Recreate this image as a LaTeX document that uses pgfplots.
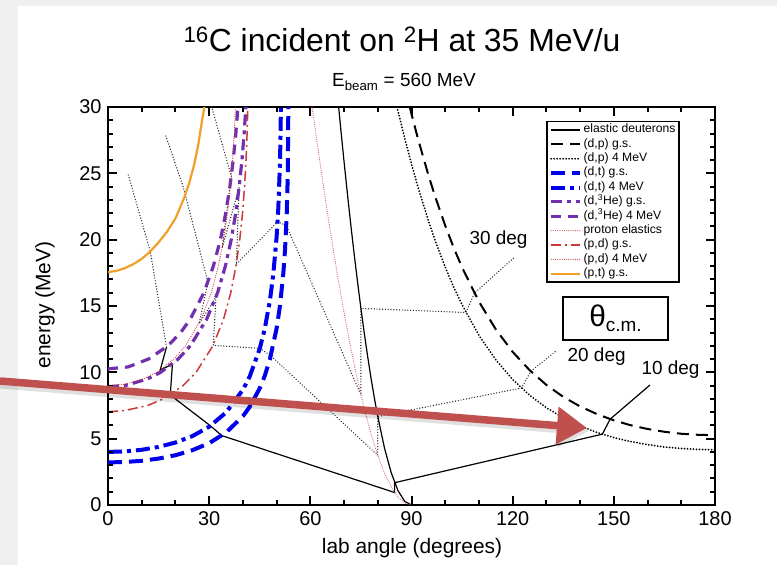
\documentclass[border=0pt]{standalone}
\usepackage{fontspec}
\setmainfont{Liberation Sans}
\usepackage{pgfplots}
\pgfplotsset{compat=1.18}
\usetikzlibrary{arrows.meta}
\definecolor{myblue}{RGB}{0,0,235}
\definecolor{mypurple}{RGB}{112,48,175}
\definecolor{myred}{RGB}{205,55,55}
\definecolor{mypink}{RGB}{215,95,95}
\definecolor{myorange}{RGB}{240,160,40}
\definecolor{arrowred}{RGB}{192,80,77}
\begin{document}
\begin{tikzpicture}
\path[use as bounding box] (-108bp,-60bp) rectangle (669bp,505bp);
\fill[gray!12] (-108bp,-60bp) rectangle (-90bp,505bp);
\fill[gray!12] (-108bp,499bp) rectangle (669bp,505bp);
\begin{axis}[
  at={(0bp,0bp)}, anchor=south west,
  scale only axis, width=607bp, height=398bp,
  xmin=0, xmax=180, ymin=0, ymax=30,
  xtick={0,30,60,90,120,150,180},
  ytick={0,5,10,15,20,25,30},
  xticklabel pos=lower, yticklabel pos=left,
  tick align=inside, major tick length=9bp, minor tick length=5bp,
  tick style={draw=black, solid, line width=2bp},
  axis line style={black, line width=1.8bp},
  /pgf/number format/assume math mode=true,
  ticklabel style={font=\fontsize{20}{24}\selectfont},
  xticklabel style={yshift=-3bp},
  yticklabel style={xshift=-3bp},
  legend style={at={(axis cs:130,28.96)}, anchor=north west, draw=black, line width=1.6bp, fill=white,
    font=\fontsize{12.2}{14}\selectfont, inner sep=2bp, row sep=1.4bp,
    nodes={inner sep=1.5bp, text height=0.78em, text depth=0.22em}, cells={anchor=west}},
  legend image code/.code={\draw[#1] (0bp,0bp) -- (29bp,0bp);},
]
% theta_cm lines
\addplot[forget plot, black!85, line width=1.4bp, line cap=round, dash pattern=on 0bp off 2.8bp] coordinates {
(120.2,18.6) (108.67,15.97) (106.15,14.51) (75,14.82) (75,8.31) (52.87,21.07) (50.3,21.35) (38.04,18.14) (38.89,23.95) (33.84,19.37) (36.55,24.77) (29.0,31.6)};
\addplot[forget plot, black!85, line width=1.4bp, line cap=round, dash pattern=on 0bp off 2.8bp] coordinates {
(132.6,11.55) (125.4,10.08) (122.6,8.82) (80,6.67) (80,3.74) (48.3,11.25) (45.0,11.81) (31.2,12.03) (32.05,15.69) (27.0,13.67) (29.65,16.79) (22.4,23.89) (16.9,28.0)};
\addplot[forget plot, black!85, line width=1.4bp, line cap=round, dash pattern=on 0bp off 2.8bp] coordinates {
(17.35,11.91) (12.5,19.15) (6.0,24.9)};
\addplot[forget plot, black, line width=1.2bp] coordinates {
(160.7,9.04) (148.9,6.47) (146.6,5.34) (85.0,1.68) (85.0,0.94) (33.76,5.23) (30.36,5.97) (18.46,8.29) (19.11,10.62) (15.48,10.17) (17.35,11.91)};
% elastic deuterons
\addplot[black, line width=1.2bp] coordinates {
(68.4,30.0) (69,28.41) (70,25.88) (71,23.45) (72,21.12) (73,18.91) (74,16.81) (75,14.82) (76,12.95) (77,11.19) (78,9.56) (79,8.05) (80,6.67) (82,4.28) (84,2.42) (86,1.08) (88,0.27) (90,0)};
\addlegendentry{elastic deuterons}
% (d,p) g.s.
\addplot[black, line width=2bp, dash pattern=on 12bp off 7bp] coordinates {
(89.5,30.0) (90,29.47) (92,27.53) (95,24.88) (97,23.26) (100,21.06) (102.5,19.40) (105,17.91) (110,15.33) (115,13.24) (120,11.54) (125,10.17) (130,9.05) (135,8.15) (140,7.43) (145,6.85) (150,6.38) (155,6.01) (160,5.73) (165,5.52) (170,5.37) (175,5.29) (180,5.26)};
\addlegendentry{(d,p) g.s.}
% (d,p) 4 MeV
\addplot[black, line width=2bp, line cap=round, dash pattern=on 0bp off 3bp] coordinates {
(85.7,30.0) (88,27.63) (90,25.70) (92,23.90) (95,21.44) (97,19.95) (100,17.93) (102.5,16.43) (105,15.09) (110,12.79) (115,10.94) (120,9.46) (125,8.28) (130,7.33) (135,6.57) (140,5.96) (145,5.47) (150,5.08) (155,4.78) (160,4.55) (165,4.37) (170,4.26) (175,4.19) (180,4.16)};
\addlegendentry{(d,p) 4 MeV}
% (d,t) g.s.
\addplot[myblue, line width=4bp, dash pattern=on 14bp off 7bp] coordinates {
(0,3.21) (5,3.24) (10,3.33) (15,3.50) (20,3.75) (25,4.13) (30,4.66) (35,5.46) (40,6.69) (42,7.39) (45,8.80) (46.5,9.75) (48,10.98) (50,13.31) (51,15.02) (52,17.48) (52.5,19.26) (53,21.92) (53.3,24.73) (53.46,29.4) (53.45,30)};
\addlegendentry{(d,t) g.s.}
% (d,t) 4 MeV
\addplot[myblue, line width=4bp, dash pattern=on 14bp off 5bp on 4bp off 5bp] coordinates {
(0,4.00) (5,4.04) (10,4.16) (15,4.38) (20,4.71) (25,5.19) (30,5.90) (35,6.97) (40,8.68) (42,9.67) (45,11.78) (46.5,13.30) (48,15.39) (49,17.35) (50,20.20) (50.5,22.35) (51,25.79) (51.2,28.37) (51.26,30)};
\addlegendentry{(d,t) 4 MeV}
% (d,3He) g.s.
\addplot[mypurple, line width=3.2bp, dash pattern=on 11bp off 5bp on 4bp off 5bp] coordinates {
(0,8.92) (5,9.00) (11.7,9.5) (15.6,10) (20.8,11) (24.4,12) (29.25,14) (32.5,16) (34.8,18) (36.54,20) (37.87,22) (38.9,24) (39.73,26) (40.37,28) (40.89,30)};
\addlegendentry{(d,\textsuperscript{3}He) g.s.}
% (d,3He) 4 MeV
\addplot[mypurple, line width=3.2bp, dash pattern=on 10bp off 7bp] coordinates {
(0,10.26) (6,10.41) (12.0,11) (17.78,12) (21.56,13) (24.37,14) (28.43,16) (31.24,18) (33.33,20) (34.91,22) (36.15,24) (37.13,26) (37.91,28) (38.53,30)};
\addlegendentry{(d,\textsuperscript{3}He) 4 MeV}
% proton elastics
\addplot[mypink, line width=1.2bp, line cap=round, dash pattern=on 0bp off 2.2bp] coordinates {
(60.5,30.0) (61,29.14) (62,27.33) (63,25.56) (64,23.83) (65,22.15) (66,20.51) (67,18.93) (68,17.40) (69,15.93) (70,14.51) (72,11.84) (74,9.42) (76,7.26) (78,5.36) (80,3.74) (82,2.40) (84,1.35) (86,0.60) (88,0.15) (90,0)};
\addlegendentry{proton elastics}
% (p,d) g.s.
\addplot[myred, line width=1.5bp, dash pattern=on 10bp off 4bp on 2bp off 4bp] coordinates {
(0,7.03) (5,7.12) (11.75,7.5) (16.41,8) (22.27,9) (26.11,10) (31.11,12) (34.26,14) (36.41,16) (37.93,18) (39.07,20) (39.89,22) (40.49,24) (40.93,26) (41.24,28) (41.46,30)};
\addlegendentry{(p,d) g.s.}
% (p,d) 4 MeV
\addplot[myred, line width=1.2bp, line cap=round, dash pattern=on 0bp off 2.2bp] coordinates {
(0,8.99) (5,9.10) (10.46,9.5) (14.42,10) (19.52,11) (22.97,12) (27.61,14) (30.63,16) (32.72,18) (34.28,20) (35.42,22) (36.30,24) (36.95,26) (37.44,28) (37.79,30)};
\addlegendentry{(p,d) 4 MeV}
% (p,t) g.s.
\addplot[myorange, line width=2.2bp] coordinates {
(0,17.55) (2.5,17.65) (5,17.85) (7.5,18.15) (10,18.55) (12.5,19.1) (15,19.8) (17.5,20.6) (20,21.6) (22.5,23.1) (24,24.2) (25.5,25.6) (26.8,27.2) (27.9,29.0) (28.6,30)};
\addlegendentry{(p,t) g.s.}
% tick marks drawn explicitly
\pgfplotsinvokeforeach{30,60,90,120,150}{
  \draw[black, line width=2bp] (axis cs:#1,0) -- ([yshift=9bp]axis cs:#1,0);
  \draw[black, line width=2bp] (axis cs:#1,30) -- ([yshift=-9bp]axis cs:#1,30);
}
\pgfplotsinvokeforeach{10,20,40,50,70,80,100,110,130,140,160,170}{
  \draw[black, line width=2bp] (axis cs:#1,0) -- ([yshift=5bp]axis cs:#1,0);
  \draw[black, line width=2bp] (axis cs:#1,30) -- ([yshift=-5bp]axis cs:#1,30);
}
\pgfplotsinvokeforeach{5,10,15,20,25}{
  \draw[black, line width=2bp] (axis cs:0,#1) -- ([xshift=9bp]axis cs:0,#1);
  \draw[black, line width=2bp] (axis cs:180,#1) -- ([xshift=-9bp]axis cs:180,#1);
}
\pgfplotsinvokeforeach{1,2,3,4,6,7,8,9,11,12,13,14,16,17,18,19,21,22,23,24,26,27,28,29}{
  \draw[black, line width=2bp] (axis cs:0,#1) -- ([xshift=5bp]axis cs:0,#1);
  \draw[black, line width=2bp] (axis cs:180,#1) -- ([xshift=-5bp]axis cs:180,#1);
}
% annotations
\draw[line width=1.5bp, fill=white] (axis cs:134.9,12.44) rectangle (axis cs:166.1,15.68);
\node at (axis cs:150.5,14.06) {\fontsize{30}{32}\selectfont θ\raisebox{-5bp}{\fontsize{19}{20}\selectfont c.m.}};
\node[font=\fontsize{19}{22}\selectfont] at (axis cs:115.8,19.97) {30 deg};
\node[font=\fontsize{19}{22}\selectfont] at (axis cs:144.9,11.15) {20 deg};
\node[font=\fontsize{19}{22}\selectfont] at (axis cs:166.8,10.18) {10 deg};
\end{axis}
\node[font=\fontsize{32}{36}\selectfont] at (294bp,466bp) {\textsuperscript{16}C incident on \textsuperscript{2}H at 35 MeV/u};
\node[font=\fontsize{19}{22}\selectfont] at (296bp,423bp) {E\textsubscript{beam} = 560 MeV};
\node[font=\fontsize{21}{24}\selectfont] at (304bp,-43bp) {lab angle (degrees)};
\node[font=\fontsize{21}{24}\selectfont, rotate=90] at (-63bp,200bp) {energy (MeV)};
\draw[black, opacity=0.12, line width=9bp, -{Triangle[length=30bp,width=36bp]}] (-108bp,121bp) -- (481bp,74bp);
\draw[arrowred, line width=7.5bp, -{Triangle[length=30bp,width=36bp]}] (-108bp,124bp) -- (479bp,77bp);
\end{tikzpicture}
\end{document}
